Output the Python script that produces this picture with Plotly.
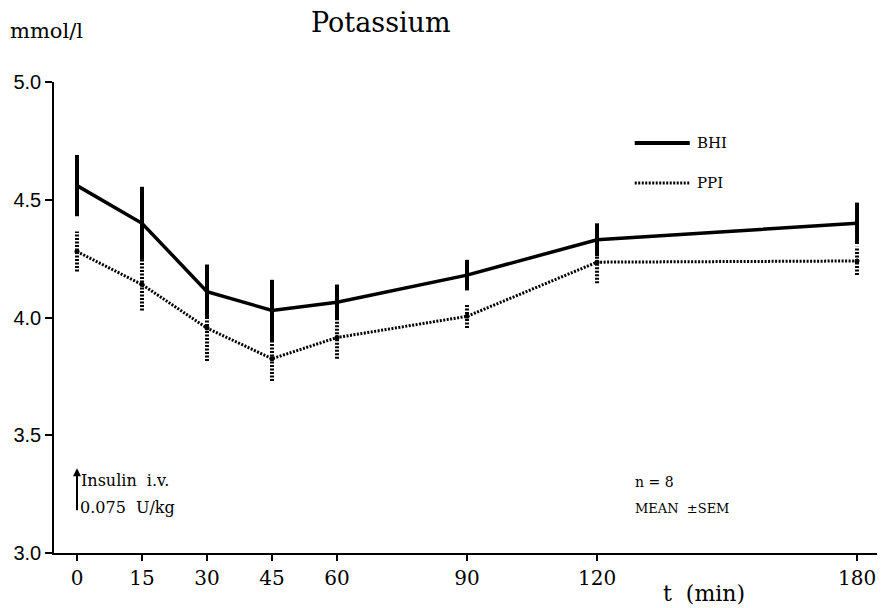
import plotly.graph_objects as go

t_min = [0, 15, 30, 45, 60, 90, 120, 180]
bhi_mean = [4.56, 4.40, 4.11, 4.03, 4.065, 4.18, 4.33, 4.40]
bhi_sem = [0.13, 0.155, 0.115, 0.13, 0.075, 0.065, 0.07, 0.088]
ppi_mean = [4.28, 4.14, 3.955, 3.825, 3.915, 4.005, 4.235, 4.24]
ppi_sem = [0.085, 0.11, 0.14, 0.095, 0.09, 0.05, 0.09, 0.06]
x_ticks = [0, 15, 30, 45, 60, 90, 120, 180]
y_ticks = [3.0, 3.5, 4.0, 4.5, 5.0]
y_tick_text = ["3.0", "3.5", "4.0", "4.5", "5.0"]

SERIF = "DejaVu Serif"
SANS = "Liberation Sans"

# page body has an 8px margin; figure placed at (8, 8)
OFF = 8
PL, PR, PT, PB = 54, 880, 82, 553  # plot area in page pixels
FW, FH = 877, 600


def px(xp):
    return (xp - PL) / (PR - PL)


def py(yp):
    return (PB - yp) / (PB - PT)


fig = go.Figure()

# PPI error bars (dotted)
ex, ey = [], []
for t, m, s in zip(t_min, ppi_mean, ppi_sem):
    ex += [t, t, None]
    ey += [m - s, m + s, None]
fig.add_trace(go.Scatter(x=ex, y=ey, mode="lines", showlegend=False,
                         line=dict(color="black", width=4, dash="2px,1.5px"),
                         hoverinfo="skip"))
# PPI line
fig.add_trace(go.Scatter(x=t_min, y=ppi_mean, mode="lines+markers", name="PPI",
                         showlegend=False,
                         line=dict(color="black", width=3, dash="2px,1.5px"),
                         marker=dict(color="black", size=5)))
# BHI line with error bars
fig.add_trace(go.Scatter(x=t_min, y=bhi_mean, mode="lines", name="BHI",
                         showlegend=False,
                         line=dict(color="black", width=3.5),
                         error_y=dict(type="data", array=bhi_sem, visible=True,
                                      thickness=4, width=0, color="black")))

# manual legend
fig.add_shape(type="line", x0=128.7, x1=141.4, y0=4.741, y1=4.741, xref="x", yref="y",
              line=dict(color="black", width=4))
fig.add_shape(type="line", x0=128.7, x1=141.4, y0=4.571, y1=4.571, xref="x", yref="y",
              line=dict(color="black", width=3, dash="2px,1.5px"))
fig.add_annotation(x=142.5, y=4.741, xref="x", yref="y", text="BHI", showarrow=False,
                   xanchor="left", font=dict(family=SERIF, size=15, color="black"))
fig.add_annotation(x=142.5, y=4.571, xref="x", yref="y", text="PPI", showarrow=False,
                   xanchor="left", font=dict(family=SERIF, size=15, color="black"))

# insulin arrow and text
fig.add_annotation(x=0, y=3.36, ax=0, ay=3.175, xref="x", yref="y", axref="x", ayref="y",
                   text="", showarrow=True, arrowhead=2, arrowsize=0.8, arrowwidth=2,
                   arrowcolor="black")
fig.add_annotation(x=0.5, y=3.31, xref="x", yref="y", text="Insulin  i.v.", showarrow=False,
                   xanchor="left", font=dict(family=SERIF, size=16, color="black"))
fig.add_annotation(x=0.2, y=3.195, xref="x", yref="y", text="0.075  U/kg", showarrow=False,
                   xanchor="left", font=dict(family=SERIF, size=16, color="black"))

fig.add_annotation(x=128.2, y=3.30, xref="x", yref="y", text="n = 8", showarrow=False,
                   xanchor="left", font=dict(family=SERIF, size=14, color="black"))
fig.add_annotation(x=128.2, y=3.187, xref="x", yref="y", text="MEAN  ±SEM", showarrow=False,
                   xanchor="left", font=dict(family=SERIF, size=13, color="black"))

# titles
fig.add_annotation(x=px(381), y=py(22), xref="paper", yref="paper",
                   text="Potassium", showarrow=False, xanchor="center", yanchor="middle",
                   font=dict(family=SERIF, size=27, color="black"))
fig.add_annotation(x=px(8), y=py(31), xref="paper", yref="paper",
                   text="mmol/l", showarrow=False, xanchor="left", yanchor="middle",
                   font=dict(family=SERIF, size=21, color="black"))
fig.add_annotation(x=px(704), y=py(593), xref="paper", yref="paper",
                   text="t  (min)", showarrow=False, xanchor="center", yanchor="middle",
                   font=dict(family=SERIF, size=22, color="black"))

fig.update_xaxes(range=[-5.31, 185.3], tickvals=x_ticks, ticks="outside", ticklen=6,
                 tickwidth=1.5, tickcolor="black", showline=True, linecolor="black",
                 linewidth=1.5, showgrid=False, zeroline=False,
                 tickfont=dict(family=SERIF, size=20, color="black"))
fig.update_yaxes(range=[3.0, 5.0], tickvals=y_ticks, ticktext=y_tick_text, ticks="outside",
                 ticklen=7, tickwidth=1.5, tickcolor="black", showline=True,
                 linecolor="black", linewidth=1.5, showgrid=False, zeroline=False,
                 tickfont=dict(family=SANS, size=20, color="black"))

fig.update_layout(width=FW, height=FH,
                  margin=dict(l=PL - OFF, r=FW - (PR - OFF), t=PT - OFF, b=FH - (PB - OFF),
                              autoexpand=False),
                  plot_bgcolor="white", paper_bgcolor="white", showlegend=False)

fig.write_html("out.html")
